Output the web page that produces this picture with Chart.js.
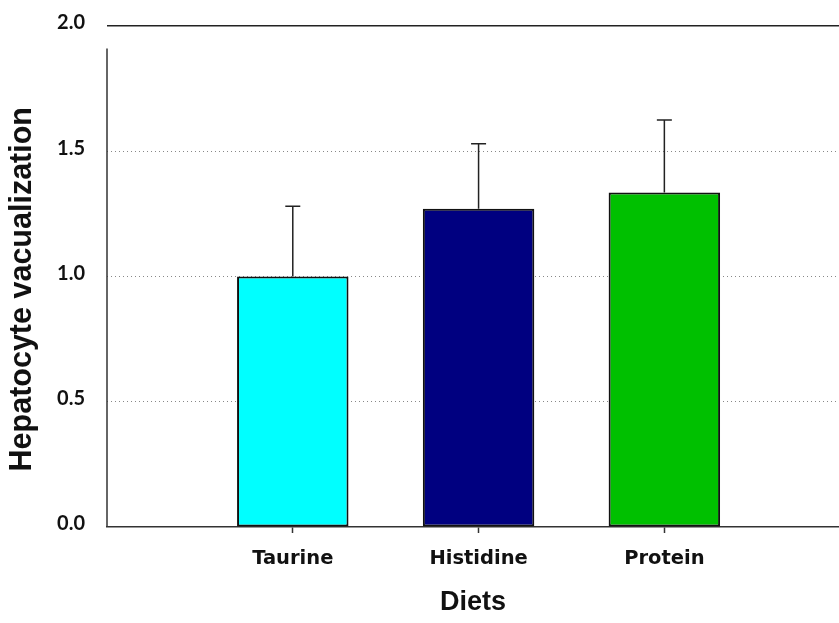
<!DOCTYPE html>
<html>
<head>
<meta charset="utf-8">
<title>Hepatocyte vacualization by diet</title>
<script src="https://cdn.jsdelivr.net/npm/chart.js@4/dist/chart.umd.min.js"></script>
<style>
  html, body { margin: 0; padding: 0; background: #fff; overflow: hidden; }
  #chart { display: block; }
</style>
</head>
<body>
<canvas id="chart" width="839" height="623"></canvas>
<script>
const diets = ['Taurine', 'Histidine', 'Protein'];
const vacualization = [1.00, 1.27, 1.335];
const stdError = [0.28, 0.26, 0.29];
const barColors = ['#00ffff', '#000080', '#00c000'];
const yTicks = [0, 0.5, 1.0, 1.5, 2.0];

// upper error whiskers, drawn on top of each bar
const errorBars = {
  id: 'errorBars',
  afterDatasetsDraw(chart) {
    const ctx = chart.ctx;
    const y = chart.scales.y;
    const meta = chart.getDatasetMeta(0);
    ctx.save();
    ctx.strokeStyle = '#222';
    ctx.lineWidth = 1.5;
    meta.data.forEach((bar, i) => {
      const top = y.getPixelForValue(vacualization[i] + stdError[i]);
      ctx.beginPath();
      ctx.moveTo(bar.x, bar.y);
      ctx.lineTo(bar.x, top);
      ctx.moveTo(bar.x - 7.5, top);
      ctx.lineTo(bar.x + 7.5, top);
      ctx.stroke();
    });
    ctx.restore();
  }
};

// the vertical axis line stops a little short of the top rule
const yAxisLine = {
  id: 'yAxisLine',
  afterDraw(chart) {
    const ctx = chart.ctx;
    const y = chart.scales.y;
    const x0 = chart.chartArea.left;
    ctx.save();
    ctx.strokeStyle = '#333';
    ctx.lineWidth = 1.5;
    ctx.beginPath();
    ctx.moveTo(x0, y.getPixelForValue(1.91));
    ctx.lineTo(x0, y.getPixelForValue(0));
    ctx.stroke();
    ctx.restore();
  }
};

new Chart(document.getElementById('chart'), {
  type: 'bar',
  data: {
    datasets: [{
      data: diets.map((d, i) => ({ x: i, y: vacualization[i] })),
      backgroundColor: barColors,
      borderColor: '#111',
      borderWidth: 2,
      borderSkipped: false,
      categoryPercentage: 1,
      barPercentage: 0.6
    }]
  },
  options: {
    responsive: false,
    animation: false,
    layout: { padding: { top: 26, right: 0, bottom: 0, left: 0 } },
    plugins: { legend: { display: false }, tooltip: { enabled: false } },
    scales: {
      x: {
        type: 'linear',
        min: -1,
        max: 2.94,
        offset: false,
        afterBuildTicks: s => { s.ticks = diets.map((d, i) => ({ value: i })); },
        afterFit: s => { s.height = 96; },
        ticks: {
          callback: v => diets[v] ?? '',
          color: '#111',
          font: { family: 'DejaVu Sans', weight: 'bold', size: 19.5 },
          padding: 14,
          maxRotation: 0
        },
        grid: { offset: false, drawOnChartArea: false, tickLength: 6, tickWidth: 1.5, tickColor: '#333' },
        border: { color: '#333', width: 1.5 },
        title: {
          display: true,
          text: 'Diets',
          color: '#111',
          font: { family: 'Liberation Sans', weight: 'bold', size: 27 },
          padding: { top: 0, bottom: 4 }
        }
      },
      y: {
        min: 0,
        max: 2,
        afterBuildTicks: s => { s.ticks = yTicks.map(v => ({ value: v })); },
        afterFit: s => { s.width = 107; s.paddingTop = 0; s.paddingBottom = 0; },
        ticks: {
          callback: v => v.toFixed(1),
          color: '#111',
          font: { family: 'Lato', weight: 'bold', size: 20 },
          padding: 22,
          labelOffset: -3
        },
        grid: {
          drawTicks: false,
          color: c => c.tick.value === 2 ? '#222' : (c.tick.value === 0 ? 'rgba(0,0,0,0)' : '#888'),
          lineWidth: c => c.tick.value === 2 ? 1.5 : 1
        },
        border: {
          display: false,
          dash: c => (c.tick && c.tick.value < 2) ? [1, 3] : []
        },
        title: {
          display: true,
          text: 'Hepatocyte vacualization   ',
          color: '#111',
          font: { family: 'Liberation Sans', weight: 'bold', size: 30.5 },
          padding: { top: 4, bottom: 0 }
        }
      }
    }
  },
  plugins: [errorBars, yAxisLine]
});
</script>
</body>
</html>
